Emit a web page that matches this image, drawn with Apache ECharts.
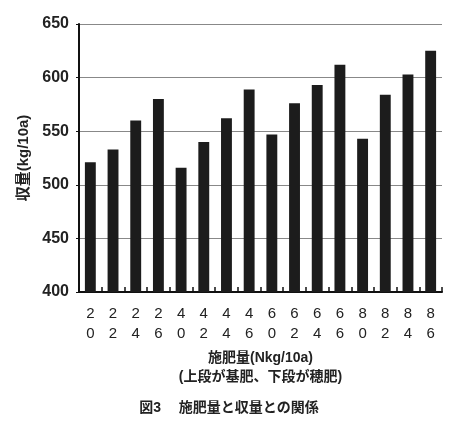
<!DOCTYPE html>
<html>
<head>
<meta charset="utf-8">
<script src="https://cdn.jsdelivr.net/npm/echarts@6/dist/echarts.min.js"></script>
<style>
  html, body { margin: 0; padding: 0; background: #fff; }
</style>
</head>
<body>
<div id="chart" style="width: 458px; height: 426px"></div>
<script>
// 上段: 基肥, 下段: 穂肥 (Nkg/10a)
var basal = ['2', '2', '2', '2', '4', '4', '4', '4', '6', '6', '6', '6', '8', '8', '8', '8'];
var topdress = ['0', '2', '4', '6', '0', '2', '4', '6', '0', '2', '4', '6', '0', '2', '4', '6'];
var yieldVals = [521, 533, 560, 580, 516, 540, 562, 589, 547, 576, 593, 612, 543, 584, 603, 625];

var categories = basal.map(function (b, i) { return b + '\n' + topdress[i]; });

var font = 'Liberation Sans, Noto Sans CJK JP, sans-serif';

var myChart = echarts.init(document.getElementById('chart'));
var option = {
  backgroundColor: '#fff',
  animation: false,
  title: {
    text: '図3　 施肥量と収量との関係',
    left: 'center',
    top: 396,
    textStyle: { fontFamily: font, fontSize: 14, fontWeight: 'bold', color: '#222' }
  },
  grid: { left: 79, right: 16, top: 24, bottom: 134 },
  xAxis: {
    type: 'category',
    data: categories,
    name: '施肥量(Nkg/10a)\n(上段が基肥、下段が穂肥)',
    nameLocation: 'middle',
    nameGap: 57,
    nameTextStyle: { fontFamily: font, fontSize: 14, fontWeight: 'bold', color: '#222', lineHeight: 19 },
    axisLine: { lineStyle: { color: '#111', width: 2 } },
    axisTick: { show: true, inside: true, length: 5, lineStyle: { color: '#111', width: 1.5 } },
    axisLabel: { fontFamily: font, fontSize: 15, color: '#222', lineHeight: 20, margin: 12 }
  },
  yAxis: {
    type: 'value',
    min: 400,
    max: 650,
    interval: 50,
    name: '収量(kg/10a)',
    nameLocation: 'middle',
    nameGap: 42,
    nameRotate: 90,
    nameTextStyle: { fontFamily: font, fontSize: 15, fontWeight: 'bold', color: '#222' },
    axisLine: { show: true, lineStyle: { color: '#111', width: 2 } },
    axisTick: { show: true, length: 3, lineStyle: { color: '#111' } },
    axisLabel: { fontFamily: font, fontSize: 16, fontWeight: 'bold', color: '#222', margin: 10 },
    splitLine: { show: true, lineStyle: { color: '#888', width: 1 } }
  },
  series: [{
    type: 'bar',
    data: yieldVals,
    barWidth: '48%',
    itemStyle: { color: '#1c1c1c' }
  }]
};
myChart.setOption(option);
</script>
</body>
</html>
